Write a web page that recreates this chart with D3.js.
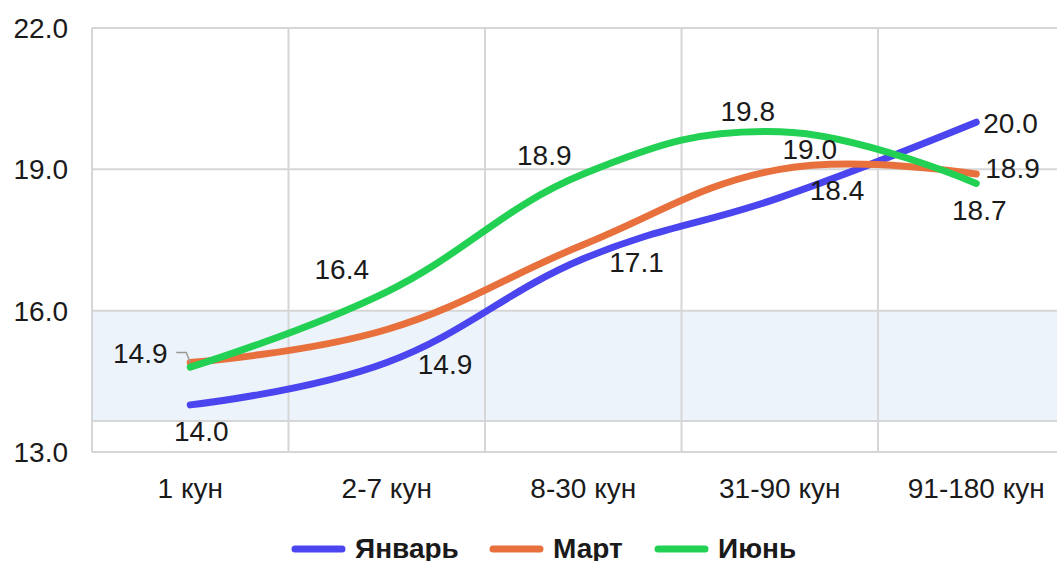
<!DOCTYPE html>
<html>
<head>
<meta charset="utf-8">
<script src="https://cdn.jsdelivr.net/npm/d3@7"></script>
<style>
  body { margin: 0; background: #fff; overflow: hidden; }
  text { font-family: "Liberation Sans", Arial, sans-serif; fill: #1a1a1a; }
</style>
</head>
<body>
<div id="chart"></div>
<script>
var categories = ["1 кун", "2-7 кун", "8-30 кун", "31-90 кун", "91-180 кун"];
var seriesNames = ["Январь", "Март", "Июнь"];
var january = [14.0, 14.9, 17.1, 18.4, 20.0];
var march = [14.9, 15.6, 17.4, 19.0, 18.9];
var june = [14.8, 16.4, 18.9, 19.8, 18.7];
var yTicks = [13, 16, 19, 22];
var bandRange = [13.66, 16.0];

var colors = ["#4a45ef", "#e8703c", "#22d153"];

/* label placement per series and point: [dx, dy, anchor], null = hidden */
var labelPlace = [
    [[11, 26, "middle"], [31, 1, "start"], [26, 3, "start"], [30, -8, "start"], [7, 1, "start"]],
    [[-50, -10, "middle"], null, null, [30, -20, "middle"], [9, -6, "start"]],
    [null, [-45, -23, "middle"], [-39, -19, "middle"], [-32, -21, "middle"], [3, 26, "middle"]]
];

var width = 1057,
    height = 561,
    margin = {top: 28, left: 92, bottom: 452},
    plotRight = 92 + 5 * 196.5;

var svg = d3.select("#chart").append("svg")
    .attr("width", width)
    .attr("height", height);

var x = d3.scaleBand().domain(categories).range([margin.left, plotRight]);
var y = d3.scaleLinear().domain([13, 22]).range([margin.bottom, margin.top]);
var cx = function(c) { return x(c) + x.bandwidth() / 2; };

/* shaded band */
svg.append("rect")
    .attr("x", margin.left)
    .attr("y", y(bandRange[1]))
    .attr("width", plotRight - margin.left)
    .attr("height", y(bandRange[0]) - y(bandRange[1]))
    .attr("fill", "#edf3fa");

/* grid */
svg.append("g").selectAll("line")
    .data(yTicks.concat([bandRange[0]]))
    .enter().append("line")
    .attr("x1", margin.left).attr("x2", plotRight)
    .attr("y1", function(d) { return y(d); })
    .attr("y2", function(d) { return y(d); })
    .attr("stroke", "#d6d6d6")
    .attr("stroke-width", 2);

svg.append("g").selectAll("line")
    .data(categories)
    .enter().append("line")
    .attr("x1", function(d) { return x(d); })
    .attr("x2", function(d) { return x(d); })
    .attr("y1", margin.top).attr("y2", margin.bottom)
    .attr("stroke", "#d6d6d6")
    .attr("stroke-width", 2);

/* y tick labels */
svg.append("g").selectAll("text")
    .data(yTicks)
    .enter().append("text")
    .attr("x", 68)
    .attr("y", function(d) { return y(d); })
    .attr("dy", "0.36em")
    .attr("text-anchor", "end")
    .attr("font-size", 28)
    .text(function(d) { return d.toFixed(1); });

/* x labels */
svg.append("g").selectAll("text")
    .data(categories)
    .enter().append("text")
    .attr("x", cx)
    .attr("y", 498)
    .attr("text-anchor", "middle")
    .attr("font-size", 28)
    .text(function(d) { return d; });

var series = [january, march, june];

var line = d3.line()
    .x(function(d, i) { return cx(categories[i]); })
    .y(function(d) { return y(d); })
    .curve(d3.curveCardinal.tension(-0.2));

svg.append("g").selectAll("path")
    .data(series)
    .enter().append("path")
    .attr("d", line)
    .attr("fill", "none")
    .attr("stroke", function(d, i) { return colors[i]; })
    .attr("stroke-width", 7)
    .attr("stroke-linecap", "round")
    .attr("stroke-linejoin", "round");

/* leader line for Март first label */
var p0x = cx(categories[0]), p0y = y(march[0]);
svg.append("path")
    .attr("d", "M" + (p0x - 14) + "," + (p0y - 10) + "H" + (p0x - 4) + "L" + p0x + "," + p0y)
    .attr("fill", "none")
    .attr("stroke", "#999")
    .attr("stroke-width", 1.5);

/* data labels */
series.forEach(function(vals, s) {
    vals.forEach(function(v, i) {
        var p = labelPlace[s][i];
        if (!p) return;
        svg.append("text")
            .attr("x", cx(categories[i]) + p[0])
            .attr("y", y(v) + p[1])
            .attr("dy", "0.36em")
            .attr("text-anchor", p[2])
            .attr("font-size", 28)
            .text(v.toFixed(1));
    });
});

/* legend */
var legendX = [292, 490, 655];
var legend = svg.append("g").selectAll("g")
    .data(seriesNames)
    .enter().append("g")
    .attr("transform", function(d, i) { return "translate(" + legendX[i] + ",549)"; });

legend.append("line")
    .attr("x1", 3).attr("x2", 50)
    .attr("stroke", function(d, i) { return colors[i]; })
    .attr("stroke-width", 7)
    .attr("stroke-linecap", "round");

legend.append("text")
    .attr("x", 63)
    .attr("y", 9)
    .attr("font-size", 28)
    .attr("font-weight", "bold")
    .text(function(d) { return d; });
</script>
</body>
</html>
